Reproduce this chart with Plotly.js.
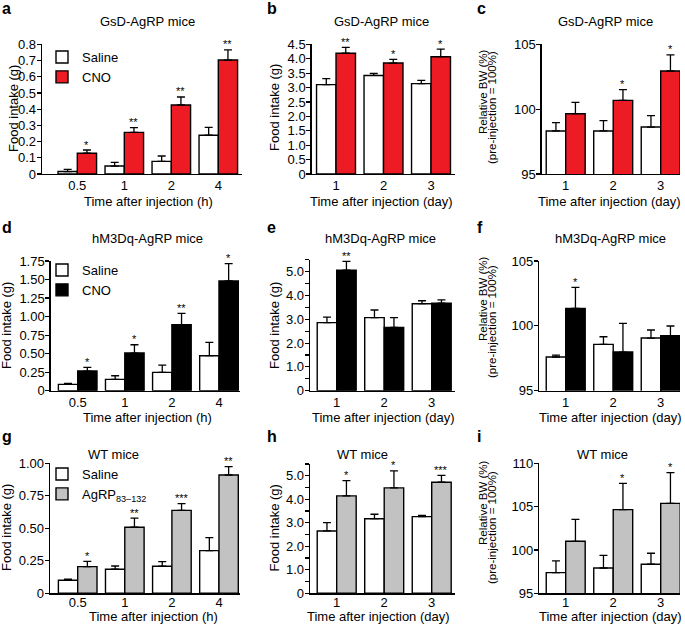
<!DOCTYPE html>
<html><head><meta charset="utf-8">
<script src="https://cdn.plot.ly/plotly-3.0.1.min.js"></script>
<style>html,body{margin:0;padding:0;background:#fff}</style>
</head><body><div id="chart" style="width:685px;height:629px"></div>
<script>
// ---------- data ----------
const hourCats = ["0.5", "1", "2", "4"];
const dayCats = ["1", "2", "3"];

// a: GsD-AgRP, food intake (g), hours
const aSaline = [0.015, 0.049, 0.078, 0.239];
const aSalineErr = [0.014, 0.023, 0.033, 0.049];
const aCNO = [0.128, 0.257, 0.426, 0.703];
const aCNOErr = [0.020, 0.029, 0.049, 0.062];
const aStars = ["*", "**", "**", "**"];
const aYTicks = ["0", "0.1", "0.2", "0.3", "0.4", "0.5", "0.6", "0.7", "0.8"];

// b: GsD-AgRP, food intake (g), days
const bSaline = [3.10, 3.42, 3.135];
const bSalineErr = [0.21, 0.07, 0.115];
const bCNO = [4.19, 3.85, 4.07];
const bCNOErr = [0.20, 0.13, 0.26];
const bStars = ["**", "*", "*"];
const bYTicks = ["0", "0.5", "1.0", "1.5", "2.0", "2.5", "3.0", "3.5", "4.0", "4.5"];

// c: GsD-AgRP, relative BW (%), days
const cSaline = [98.32, 98.32, 98.62];
const cSalineErr = [0.64, 0.79, 0.88];
const cCNO = [99.65, 100.68, 102.94];
const cCNOErr = [0.88, 0.82, 1.24];
const cStars = ["", "*", "*"];
const cYTicks = ["95", "100", "105"];

// d: hM3Dq-AgRP, food intake (g), hours
const dSaline = [0.085, 0.153, 0.247, 0.472];
const dSalineErr = [0.015, 0.049, 0.099, 0.18];
const dCNO = [0.265, 0.508, 0.89, 1.48];
const dCNOErr = [0.05, 0.112, 0.154, 0.234];
const dStars = ["*", "*", "**", "*"];
const dYTicks = ["0", "0.25", "0.50", "0.75", "1.00", "1.25", "1.50", "1.75"];

// e: hM3Dq-AgRP, food intake (g), days
const eSaline = [2.86, 3.07, 3.655];
const eSalineErr = [0.235, 0.32, 0.125];
const eCNO = [5.06, 2.66, 3.68];
const eCNOErr = [0.37, 0.41, 0.14];
const eStars = ["**", "", ""];
const eYTicks = ["0", "1.0", "2.0", "3.0", "4.0", "5.0"];

// f: hM3Dq-AgRP, relative BW (%), days
const fSaline = [97.6, 98.57, 99.06];
const fSalineErr = [0.15, 0.59, 0.62];
const fCNO = [101.35, 97.98, 99.24];
const fCNOErr = [1.62, 2.21, 0.75];
const fStars = ["*", "", ""];
const fYTicks = ["95", "100", "105"];

// g: WT, food intake (g), hours
const gSaline = [0.10, 0.185, 0.208, 0.328];
const gSalineErr = [0.008, 0.025, 0.036, 0.10];
const gAgRP = [0.205, 0.508, 0.638, 0.91];
const gAgRPErr = [0.041, 0.071, 0.052, 0.064];
const gStars = ["*", "**", "***", "**"];
const gYTicks = ["0", "0.25", "0.50", "0.75", "1.00"];

// h: WT, food intake (g), days
const hSaline = [2.65, 3.17, 3.26];
const hSalineErr = [0.35, 0.19, 0.05];
const hAgRP = [4.14, 4.48, 4.72];
const hAgRPErr = [0.65, 0.72, 0.29];
const hStars = ["*", "*", "***"];
const hYTicks = ["0", "1.0", "2.0", "3.0", "4.0", "5.0"];

// i: WT, relative BW (%), days
const iSaline = [97.38, 97.92, 98.35];
const iSalineErr = [1.35, 1.46, 1.27];
const iAgRP = [101.0, 104.65, 105.38];
const iAgRPErr = [2.54, 3.04, 3.54];
const iStars = ["", "*", "*"];
const iYTicks = ["95", "100", "105", "110"];

const seriesNames = ["Saline", "CNO", "AgRP<sub>83–132</sub>"];
const panelTitles = ["GsD-AgRP mice", "GsD-AgRP mice", "GsD-AgRP mice",
  "hM3Dq-AgRP mice", "hM3Dq-AgRP mice", "hM3Dq-AgRP mice",
  "WT mice", "WT mice", "WT mice"];
const panelLetters = ["a", "b", "c", "d", "e", "f", "g", "h", "i"];
const xTitleHour = "Time after injection (h)";
const xTitleDay = "Time after injection (day)";
const yTitleFood = "Food intake (g)";
const yTitleBW1 = "Relative BW (%)";
const yTitleBW2 = "(pre-injection = 100%)";

// ---------- styling / layout ----------
const W = 685, H = 629;
const RED = "#ed1c24", GRAY = "#c2c2c2", BLACK = "#000000";
const FONT = '"Liberation Sans", Arial, Helvetica, sans-serif';
const BARGAP = 0.18;
const px = v => v / W;
const py = v => 1 - v / H;
const idx = arr => arr.map((_, i) => i);
const nums = arr => arr.map(Number);
const zeros = arr => arr.map(() => 0);

const panels = [
  {cats: hourCats, s: aSaline, se: aSalineErr, t: aCNO, te: aCNOErr, stars: aStars, col: RED, tname: seriesNames[1],
   ytt: aYTicks, yr: [0, 0.8], xd: [42, 242], xr: [-0.751, 3.504], yd: [44.3, 174], legend: "legend", xso: -1,
   xt: xTitleHour, xtPos: [148, 201.5], yt1: yTitleFood, ytPos: [13, 109], titlePos: [147.5, 21.7], letterPos: [0, 8.5]},
  {cats: dayCats, s: bSaline, se: bSalineErr, t: bCNO, te: bCNOErr, stars: bStars, col: RED, tname: seriesNames[1],
   ytt: bYTicks, yr: [0, 4.5], xd: [311.7, 455], xr: [-0.512, 2.505], yd: [44.3, 174], xso: -1,
   xt: xTitleDay, xtPos: [381, 201.5], yt1: yTitleFood, ytPos: [274, 108], titlePos: [381, 21.7], letterPos: [265, 8.5]},
  {cats: dayCats, s: cSaline, se: cSalineErr, t: cCNO, te: cCNOErr, stars: cStars, col: RED, tname: seriesNames[1],
   ytt: cYTicks, yr: [95, 105], xd: [541.7, 680], xr: [-0.505, 2.406], yd: [44.3, 174], xso: -1,
   xt: xTitleDay, xtPos: [609, 201.5], yt1: yTitleBW1, yt2: yTitleBW2, ytPos: [483, 92], ytPos2: [492, 108], titlePos: [605.8, 21.7], letterPos: [475, 8.5]},
  {cats: hourCats, s: dSaline, se: dSalineErr, t: dCNO, te: dCNOErr, stars: dStars, col: BLACK, tname: seriesNames[1],
   ytt: dYTicks, yr: [0, 1.75], xd: [50.7, 240], xr: [-0.573, 3.446], yd: [261, 390.7], legend: "legend2", xso: -1,
   xt: xTitleHour, xtPos: [147.5, 417.5], yt1: yTitleFood, ytPos: [6, 326], titlePos: [147, 238.5], letterPos: [0, 227]},
  {cats: dayCats, s: eSaline, se: eSalineErr, t: eCNO, te: eCNOErr, stars: eStars, col: BLACK, tname: seriesNames[1],
   ytt: eYTicks, yr: [0, 5.5], minor: true, xd: [310, 455], xr: [-0.562, 2.49], yd: [259.8, 390.7], xso: -1,
   xt: xTitleDay, xtPos: [383, 417.5], yt1: yTitleFood, ytPos: [274, 326], titlePos: [380.3, 238.5], letterPos: [265, 227]},
  {cats: dayCats, s: fSaline, se: fSalineErr, t: fCNO, te: fCNOErr, stars: fStars, col: BLACK, tname: seriesNames[1],
   ytt: fYTicks, yr: [95, 105], xd: [539.3, 680], xr: [-0.556, 2.406], yd: [261, 390.7], xso: -1,
   xt: xTitleDay, xtPos: [610, 417.5], yt1: yTitleBW1, yt2: yTitleBW2, ytPos: [483, 299], ytPos2: [492, 322], titlePos: [610, 238.5], letterPos: [475, 227]},
  {cats: hourCats, s: gSaline, se: gSalineErr, t: gAgRP, te: gAgRPErr, stars: gStars, col: GRAY, tname: seriesNames[2],
   ytt: gYTicks, yr: [0, 1.0], xd: [50, 240], xr: [-0.588, 3.446], yd: [463.3, 593.3], legend: "legend3", xso: -3,
   xt: xTitleHour, xtPos: [153, 616.5], yt1: yTitleFood, ytPos: [6, 528], titlePos: [113.3, 454], letterPos: [0, 436.5]},
  {cats: dayCats, s: hSaline, se: hSalineErr, t: hAgRP, te: hAgRPErr, stars: hStars, col: GRAY, tname: seriesNames[2],
   ytt: hYTicks, yr: [0, 5.5], minor: true, xd: [310, 455], xr: [-0.562, 2.49], yd: [463.9, 593.3], xso: -3,
   xt: xTitleDay, xtPos: [378, 616.5], yt1: yTitleFood, ytPos: [274, 528.5], titlePos: [362.7, 454], letterPos: [265, 436.5]},
  {cats: dayCats, s: iSaline, se: iSalineErr, t: iAgRP, te: iAgRPErr, stars: iStars, col: GRAY, tname: seriesNames[2],
   ytt: iYTicks, yr: [95, 110], xd: [539.3, 680], xr: [-0.556, 2.406], yd: [463.3, 593.3], xso: -3,
   xt: xTitleDay, xtPos: [610, 616.5], yt1: yTitleBW1, yt2: yTitleBW2, ytPos: [483, 503], ytPos2: [492, 528], titlePos: [602, 454], letterPos: [475, 436.5]}
];

const traces = [];
const annotations = [];
const layout = {
  width: W, height: H,
  margin: {l: 0, r: 0, t: 0, b: 0, pad: 0},
  paper_bgcolor: "#ffffff", plot_bgcolor: "rgba(0,0,0,0)",
  font: {family: FONT, size: 13, color: "#000"},
  barmode: "group", bargap: BARGAP, bargroupgap: 0,
  showlegend: true
};

const txt = (text, x, y, extra) => Object.assign({
  xref: "paper", yref: "paper", x: px(x), y: py(y), text: text, showarrow: false,
  xanchor: "center", yanchor: "middle", font: {family: FONT, size: 13, color: "#000"}
}, extra || {});

panels.forEach((p, k) => {
  const n = k + 1;
  const xa = n === 1 ? "x" : "x" + n;
  const ya = n === 1 ? "y" : "y" + n;
  const xs = idx(p.cats);
  const showLeg = !!p.legend;
  const errStyle = {type: "data", symmetric: false, color: "#000", thickness: 1.3, width: 4};
  traces.push({
    type: "bar", name: seriesNames[0], x: xs, y: p.s, xaxis: xa, yaxis: ya,
    marker: {color: "#ffffff", line: {color: "#000", width: 1.4}},
    error_y: Object.assign({array: p.se, arrayminus: zeros(p.se)}, errStyle),
    showlegend: showLeg, legend: p.legend || "legend", hoverinfo: "skip"
  });
  traces.push({
    type: "bar", name: p.tname, x: xs, y: p.t, xaxis: xa, yaxis: ya,
    marker: {color: p.col, line: {color: "#000", width: 1.4}},
    error_y: Object.assign({array: p.te, arrayminus: zeros(p.te)}, errStyle),
    showlegend: showLeg, legend: p.legend || "legend", hoverinfo: "skip"
  });
  layout["xaxis" + (n === 1 ? "" : n)] = {
    domain: [px(p.xd[0]), px(p.xd[1])], range: p.xr, anchor: ya,
    tickmode: "array", tickvals: xs, ticktext: p.cats, ticks: "", ticklabelstandoff: p.xso,
    showline: true, linecolor: "#000", linewidth: 1.4, showgrid: false, zeroline: false,
    tickfont: {family: FONT, size: 13, color: "#000"}, fixedrange: true
  };
  const yax = {
    domain: [py(p.yd[1]), py(p.yd[0])], range: p.yr, anchor: xa,
    tickmode: "array", tickvals: nums(p.ytt), ticktext: p.ytt, ticks: "outside", ticklen: 4,
    tickwidth: 1.2, tickcolor: "#000", ticklabelstandoff: -2,
    showline: true, linecolor: "#000", linewidth: 1.4, showgrid: false, zeroline: false,
    tickfont: {family: FONT, size: 13, color: "#000"}, fixedrange: true
  };
  if (p.minor) {
    yax.minor = {tickmode: "linear", tick0: 0.5, dtick: 1, ticks: "outside", ticklen: 4, tickwidth: 1.2, tickcolor: "#000", showgrid: false};
  }
  layout["yaxis" + (n === 1 ? "" : n)] = yax;
  // significance stars above treated bars
  const off = (1 - BARGAP) / 4;
  p.stars.forEach((s, i) => {
    if (!s) return;
    annotations.push({
      xref: xa, yref: ya, x: xs[i] + off, y: p.t[i] + p.te[i], text: s, showarrow: false,
      xanchor: "center", yanchor: "bottom", yshift: -2.5,
      font: {family: FONT, size: 11, color: "#000"}
    });
  });
  // panel letter, title, axis titles
  annotations.push(txt("<b>" + panelLetters[k] + "</b>", p.letterPos[0], p.letterPos[1], {xanchor: "left", font: {family: FONT, size: 16, color: "#000"}}));
  annotations.push(txt(panelTitles[k], p.titlePos[0], p.titlePos[1]));
  annotations.push(txt(p.xt, p.xtPos[0], p.xtPos[1]));
  if (p.yt2) {
    annotations.push(txt(p.yt1, p.ytPos[0], p.ytPos[1], {textangle: -90, font: {family: FONT, size: 11.5, color: "#000"}}));
    annotations.push(txt(p.yt2, p.ytPos2[0], p.ytPos2[1], {textangle: -90, font: {family: FONT, size: 11.5, color: "#000"}}));
  } else {
    annotations.push(txt(p.yt1, p.ytPos[0], p.ytPos[1], {textangle: -90}));
  }
});

const legendBase = {bgcolor: "rgba(0,0,0,0)", borderwidth: 0, font: {family: FONT, size: 13, color: "#000"},
  itemwidth: 30, tracegroupgap: 0, xanchor: "left", yanchor: "top", traceorder: "normal", itemclick: false, itemdoubleclick: false};
layout.legend = Object.assign({x: px(42), y: py(42)}, legendBase);
layout.legend2 = Object.assign({x: px(42), y: py(255)}, legendBase);
layout.legend3 = Object.assign({x: px(42), y: py(459)}, legendBase);
layout.annotations = annotations;

Plotly.newPlot("chart", traces, layout, {staticPlot: true, displayModeBar: false});
</script>
</body></html>
